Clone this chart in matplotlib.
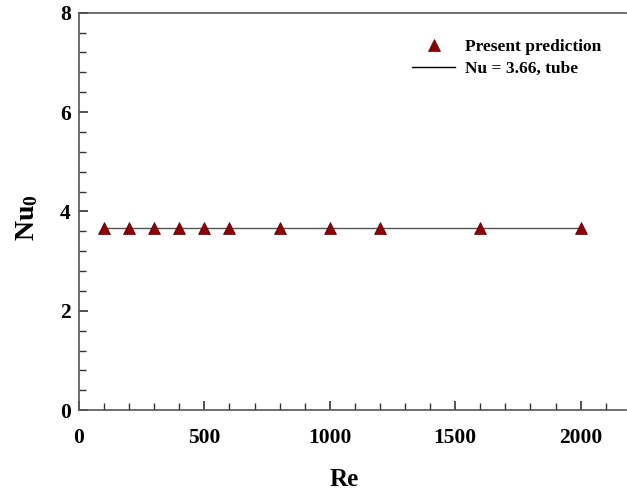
import matplotlib
matplotlib.use("Agg")
import matplotlib.pyplot as plt
from matplotlib.ticker import MultipleLocator
from matplotlib.lines import Line2D

re_vals = [100, 200, 300, 400, 500, 600, 800, 1000, 1200, 1600, 2000]
nu_pred = [3.66, 3.66, 3.66, 3.66, 3.66, 3.66, 3.66, 3.66, 3.66, 3.66, 3.66]
line_re = [100, 2000]
line_nu = [3.66, 3.66]

plt.rcParams['font.family'] = ['Liberation Serif', 'DejaVu Serif']
plt.rcParams['mathtext.fontset'] = 'custom'
plt.rcParams['mathtext.rm'] = 'Liberation Serif:bold'
plt.rcParams['mathtext.it'] = 'Liberation Serif:bold'
plt.rcParams['mathtext.bf'] = 'Liberation Serif:bold'

fig = plt.figure(figsize=(6.27, 4.90), dpi=100)
ax = fig.add_axes([0.126, 0.163, 0.872, 0.811])

ax.plot(line_re, line_nu, color='#555555', lw=1.0, zorder=2)
ax.plot(re_vals, nu_pred, linestyle='none', marker='^', markersize=8,
        markerfacecolor='#8b0000', markeredgecolor='#5a0000', markeredgewidth=0.5, zorder=3)

ax.set_xlim(0, 2180)
ax.set_ylim(0, 8)
ax.xaxis.set_major_locator(MultipleLocator(500))
ax.xaxis.set_minor_locator(MultipleLocator(100))
ax.yaxis.set_major_locator(MultipleLocator(2))
ax.yaxis.set_minor_locator(MultipleLocator(0.4))

ax.tick_params(which='both', direction='in', top=False, right=False, colors='#333333',
               labelcolor='black', labelsize=15.5)
ax.tick_params(axis='x', which='major', pad=13)
ax.tick_params(axis='y', which='major', pad=6)
ax.tick_params(which='major', length=6.5, width=1.2)
ax.tick_params(which='minor', length=5, width=1.0)
for lbl in ax.get_xticklabels() + ax.get_yticklabels():
    lbl.set_fontweight('bold')

for side in ['left', 'bottom', 'top']:
    ax.spines[side].set_color('#555555')
    ax.spines[side].set_linewidth(1.2)
ax.spines['right'].set_visible(False)

ax.set_xlabel('Re', fontsize=18, fontweight='bold')
ax.xaxis.set_label_coords(0.485, -0.146)
ax.set_ylabel(r'$\mathrm{Nu}_0$', fontsize=20)
ax.yaxis.set_label_coords(-0.072, 0.485)

handles = [
    Line2D([], [], linestyle='none', marker='^', markersize=8,
           markerfacecolor='#8b0000', markeredgecolor='#5a0000', markeredgewidth=0.5),
    Line2D([], [], color='black', lw=1.0),
]
leg = ax.legend(handles, ['Present prediction', 'Nu = 3.66, tube'],
                loc='upper left', bbox_to_anchor=(0.609, 0.935), frameon=False,
                prop={'weight': 'bold', 'size': 12.5}, handlelength=2.5,
                handletextpad=0.55, labelspacing=0.35, borderpad=0, borderaxespad=0)

fig.savefig('out.png', dpi=100)
